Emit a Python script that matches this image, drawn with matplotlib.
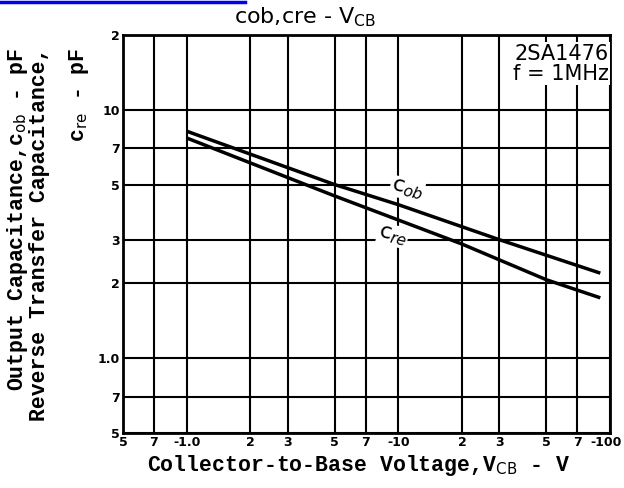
import matplotlib
matplotlib.use("Agg")
import matplotlib.pyplot as plt
import matplotlib.transforms as mtransforms
from matplotlib.lines import Line2D

# Data, |V_CB| in volts, capacitance in pF
v_cob = [1.0, 5.0, 10.0, 30.0, 90.0]
c_ob = [8.2, 5.0, 4.15, 3.0, 2.2]
v_cre = [1.0, 5.0, 10.0, 20.0, 50.0, 90.0]
c_re = [7.7, 4.5, 3.6, 2.88, 2.07, 1.75]

x_ticks = [0.5, 0.7, 1, 2, 3, 5, 7, 10, 20, 30, 50, 70, 100]
x_labels = ["5", "7", "-1.0", "2", "3", "5", "7", "-10", "2", "3", "5", "7", "-100"]
y_ticks = [0.5, 0.7, 1, 2, 3, 5, 7, 10, 20]
y_labels = ["5", "7", "1.0", "2", "3", "5", "7", "10", "2"]

W, H = 624, 488
fig = plt.figure(figsize=(W / 100, H / 100), dpi=100)
ax = fig.add_axes([123 / W, 1 - 433 / H, (610 - 123) / W, (433 - 35) / H])
ax.set_xscale("log")
ax.set_yscale("log")
ax.set_xlim(0.5, 100)
ax.set_ylim(0.5, 20)

ax.set_xticks(x_ticks)
ax.set_xticklabels(x_labels)
ax.set_yticks(y_ticks)
ax.set_yticklabels(y_labels)
ax.minorticks_off()
ax.tick_params(length=0, pad=2, labelsize=9)
for lab in ax.get_xticklabels() + ax.get_yticklabels():
    lab.set_fontweight("bold")
    lab.set_family("DejaVu Sans")
last = ax.get_xticklabels()[-1]
last.set_ha("right")
last.set_transform(last.get_transform() + mtransforms.ScaledTranslation(12 / 100, 0, fig.dpi_scale_trans))

ax.grid(True, color="black", linewidth=1.5)
for s in ax.spines.values():
    s.set_linewidth(2)
    s.set_color("black")

ax.plot(v_cob, c_ob, color="black", linewidth=2.5, solid_capstyle="butt")
ax.plot(v_cre, c_re, color="black", linewidth=2.5, solid_capstyle="butt")

ax.text(11, 4.8, r"c$_{ob}$", fontsize=16, rotation=-14, ha="center", va="center",
        family="DejaVu Sans", bbox=dict(facecolor="white", edgecolor="none", pad=0.5))
ax.text(9.4, 3.12, r"c$_{re}$", fontsize=16, rotation=-14, ha="center", va="center",
        family="DejaVu Sans", bbox=dict(facecolor="white", edgecolor="none", pad=0.5))

ax.text(0.997, 0.978, "2SA1476\nf = 1MHz", transform=ax.transAxes, ha="right", va="top",
        fontsize=15, family="DejaVu Sans", linespacing=1.0,
        bbox=dict(facecolor="white", edgecolor="none", pad=1))

# title
fig.text(305 / W, 1 - 17 / H, r"cob,cre - V$_{\rm CB}$", ha="center", va="center",
         fontsize=16, family="DejaVu Sans")

# axis labels
fig.text(359 / W, 1 - 466 / H, r"Collector-to-Base Voltage,V$_{\rm CB}$ - V", ha="center",
         va="center", fontsize=15.5, family="Liberation Mono", fontweight="bold")
fig.text(18 / W, 1 - 48 / H, r"Output Capacitance,c$_{\rm ob}$ - pF", rotation=90,
         ha="center", va="top", fontsize=15.5, family="Liberation Mono", fontweight="bold")
fig.text(40 / W, 1 - 48 / H, "Reverse Transfer Capacitance,", rotation=90,
         ha="center", va="top", fontsize=15.5, family="Liberation Mono", fontweight="bold")
fig.text(79 / W, 1 - 48 / H, r"c$_{\rm re}$ - pF", rotation=90,
         ha="center", va="top", fontsize=15.5, family="Liberation Mono", fontweight="bold")

# blue underline at top-left
fig.add_artist(Line2D([0, 245 / W], [1 - 2 / H, 1 - 2 / H], transform=fig.transFigure,
                      color="#0000ee", linewidth=2.5))

fig.savefig("out.png", dpi=100)
